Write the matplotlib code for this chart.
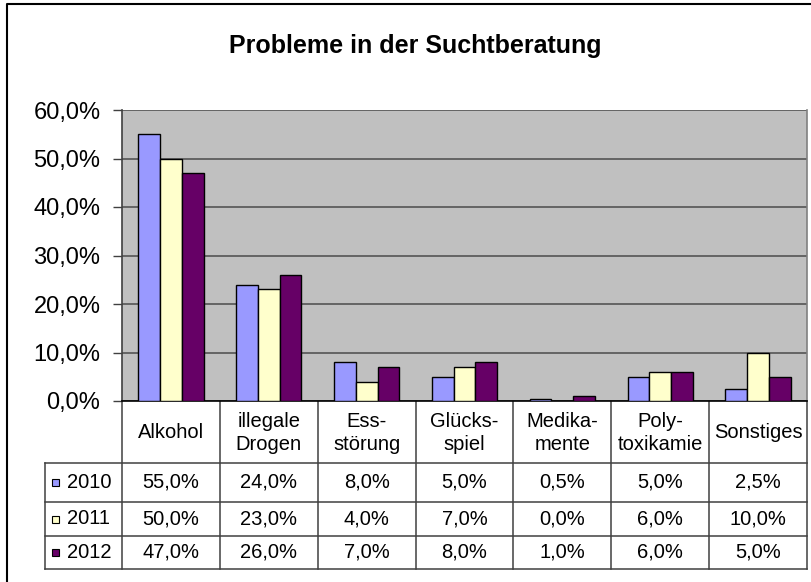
import numpy as np
import matplotlib
matplotlib.use("Agg")
import matplotlib.pyplot as plt
from matplotlib.patches import Rectangle

plt.rcParams['font.family'] = ['Liberation Sans', 'DejaVu Sans']

# data
categories = ["Alkohol", "illegale\nDrogen", "Ess-\nstörung", "Glücks-\nspiel",
              "Medika-\nmente", "Poly-\ntoxikamie", "Sonstiges"]
years = ["2010", "2011", "2012"]
v2010 = [55.0, 24.0, 8.0, 5.0, 0.5, 5.0, 2.5]
v2011 = [50.0, 23.0, 4.0, 7.0, 0.0, 6.0, 10.0]
v2012 = [47.0, 26.0, 7.0, 8.0, 1.0, 6.0, 5.0]
series = [v2010, v2011, v2012]
colors = ["#9999FF", "#FFFFCC", "#660066"]

W, H = 811, 582
fig = plt.figure(figsize=(W / 100, H / 100), dpi=100)
fig.patch.set_facecolor("white")

# plot area in pixels
px_l, px_r, px_t, px_b = 122, 807, 110, 401
ax = fig.add_axes([px_l / W, 1 - px_b / H, (px_r - px_l) / W, (px_b - px_t) / H])
ax.set_facecolor("#C0C0C0")

x = np.arange(len(categories))
bw = 0.222
for i, vals in enumerate(series):
    ax.bar(x + (i - 1) * bw, np.array(vals) / 100, width=bw, color=colors[i],
           edgecolor="black", linewidth=1.0, zorder=3)

ax.set_xlim(-0.5, len(categories) - 0.5)
ax.set_ylim(0, 0.6)
ax.set_yticks(np.arange(0, 0.61, 0.1))
ax.set_yticklabels([f"{t * 100:.1f}%".replace(".", ",") for t in np.arange(0, 0.61, 0.1)],
                   fontsize=17)
ax.tick_params(axis="y", length=6.5, width=1, color="#404040", pad=9)
ax.set_xticks([])
ax.grid(axis="y", color="#555555", linewidth=1.2, zorder=1)
ax.spines["left"].set_color("#404040")
ax.spines["bottom"].set_color("black")
ax.spines["right"].set_color("#808080")
ax.spines["top"].set_visible(False)
for s in ax.spines.values():
    s.set_linewidth(1.2)

# overlay in pixel coordinates for frame, title and data table
ov = fig.add_axes([0, 0, 1, 1], zorder=-1)
ov.set_xlim(0, W)
ov.set_ylim(H, 0)
ov.axis("off")

# outer chart frame
ov.plot([7, 7, W], [H, 4, 4], color="black", linewidth=1.5)

ov.text(415, 53, "Probleme in der Suchtberatung", fontsize=18, fontweight="bold",
        ha="center", va="baseline")

colw = (px_r - px_l) / len(categories)
edges = [px_l + i * colw for i in range(len(categories) + 1)]
head_b = 463
rows = [463, 502, 536, 569]
leg_l = 45
lc = "#404040"

# header separators
for e in edges:
    ov.plot([e, e], [px_b, rows[-1]], color=lc, linewidth=1.1)
for r in rows:
    ov.plot([leg_l, px_r], [r, r], color=lc, linewidth=1.1)
ov.plot([leg_l, leg_l], [rows[0], rows[-1]], color=lc, linewidth=1.1)

for j, cat in enumerate(categories):
    cx = (edges[j] + edges[j + 1]) / 2
    ov.text(cx, (px_b + head_b) / 2 + 1, cat, fontsize=14.5, ha="center", va="center",
            linespacing=1.32)

for i, (yr, vals) in enumerate(zip(years, series)):
    cy = (rows[i] + rows[i + 1]) / 2
    ov.add_patch(Rectangle((52, cy - 3.5), 7, 7, facecolor=colors[i], edgecolor="black",
                           linewidth=0.8))
    ov.text(67, cy, yr, fontsize=14.5, ha="left", va="center")
    for j, v in enumerate(vals):
        cx = (edges[j] + edges[j + 1]) / 2
        ov.text(cx, cy, f"{v:.1f}%".replace(".", ","), fontsize=14.5,
                ha="center", va="center")

fig.savefig("out.png", dpi=100)
